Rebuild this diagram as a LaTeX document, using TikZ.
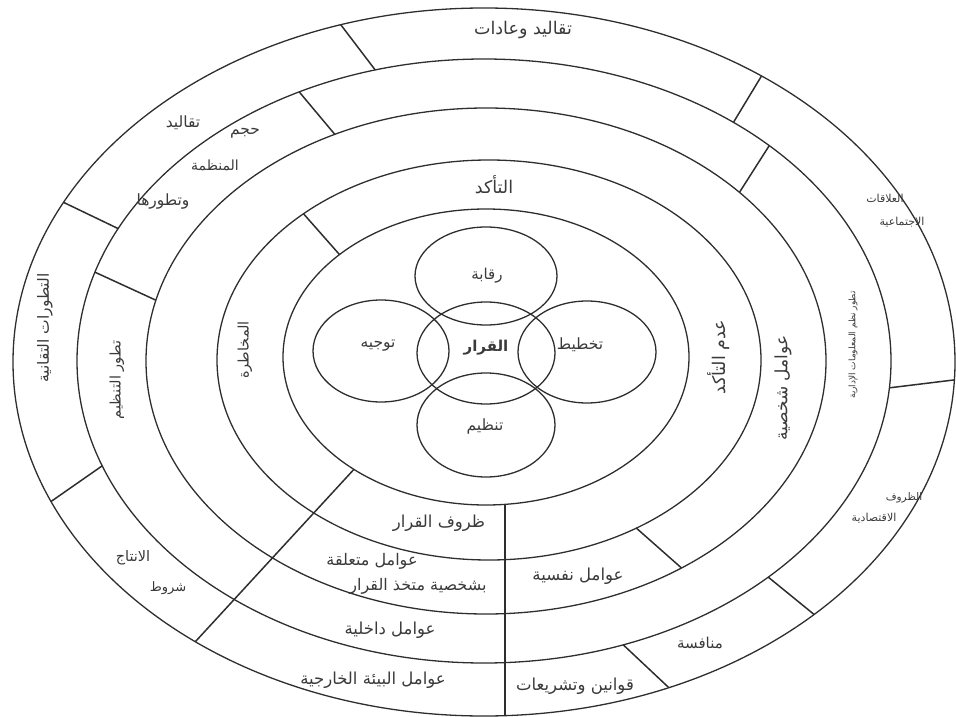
\documentclass[tikz,border=0pt]{standalone}
\usepackage{fontspec}
\usetikzlibrary{calc}
\newfontfamily\arabicfont[Script=Arabic]{DejaVu Sans}
\TeXXeTstate=1
\newcommand{\artxt}[1]{{\arabicfont\beginR #1\endR}}
\definecolor{ink}{HTML}{2E2E2E}
\definecolor{txt}{HTML}{3A3A3A}
\begin{document}
\begin{tikzpicture}[x=1pt,y=-1pt,
  ring/.style={draw=ink,line width=1.3pt},
  sep/.style={draw=ink,line width=1.5pt},
  tsize/.style={font=\fontsize{#1}{#1}\selectfont},
  lbl/.style={text=txt,tsize=16.5,inner sep=0pt},
  core/.style={text=txt,font=\fontsize{15}{15}\selectfont\bfseries,inner sep=0pt},
]
\useasboundingbox (0,0) rectangle (956,717);
% centres of the rings
\coordinate (c1) at (484,362);
\coordinate (c2) at (484,361);
\coordinate (c3) at (486,361);
\coordinate (c4) at (489,360);
\coordinate (c5) at (486,357);
% rings
\draw[ring] (c1) ellipse [x radius=471pt, y radius=354pt];
\draw[ring] (c2) ellipse [x radius=407pt, y radius=302pt];
\draw[ring] (c3) ellipse [x radius=340pt, y radius=253pt];
\draw[ring] (c4) ellipse [x radius=272pt, y radius=200pt];
\draw[ring] (c5) ellipse [x radius=203pt, y radius=148pt];
% inner circles
\draw[ring] (486,276) ellipse [x radius=71pt, y radius=49pt];
\draw[ring] (486,353) ellipse [x radius=69pt, y radius=51pt];
\draw[ring] (381,351) ellipse [x radius=68pt, y radius=51pt];
\draw[ring] (587,352) ellipse [x radius=69pt, y radius=51pt];
\draw[ring] (486,425) ellipse [x radius=69pt, y radius=52pt];
% separator end points
\coordinate (s1a) at ($(c1)+(-107.7:471 and 354)$);
\coordinate (s1b) at ($(c2)+(-105.5:407 and 302)$);
\coordinate (s2a) at ($(c2)+(-117.0:407 and 302)$);
\coordinate (s2b) at ($(c3)+(-116.4:340 and 253)$);
\coordinate (s3a) at ($(c1)+(-153.2:471 and 354)$);
\coordinate (s3b) at ($(c2)+(-154.0:407 and 302)$);
\coordinate (s4a) at ($(c2)+(-162.9:407 and 302)$);
\coordinate (s4b) at ($(c3)+(-166.1:340 and 253)$);
\coordinate (s5a) at ($(c4)+(-133.0:272 and 200)$);
\coordinate (s5b) at ($(c5)+(-136.2:203 and 148)$);
\coordinate (s6a) at ($(c1)+(-53.9:471 and 354)$);
\coordinate (s6b) at ($(c2)+(-52.2:407 and 302)$);
\coordinate (s7a) at ($(c2)+(-45.5:407 and 302)$);
\coordinate (s7b) at ($(c3)+(-41.8:340 and 253)$);
\coordinate (s8a) at ($(c2)+(5.1:407 and 302)$);
\coordinate (s8b) at ($(c1)+(2.9:471 and 354)$);
\coordinate (s9a) at ($(c2)+(45.7:407 and 302)$);
\coordinate (s9b) at ($(c1)+(45.5:471 and 354)$);
\coordinate (s10a) at ($(c2)+(70.0:407 and 302)$);
\coordinate (s10b) at ($(c1)+(66.9:471 and 354)$);
\coordinate (s11a) at ($(c4)+(57.2:272 and 200)$);
\coordinate (s11b) at ($(c3)+(54.9:340 and 253)$);
\coordinate (s12a) at ($(c1)+(156.8:471 and 354)$);
\coordinate (s12b) at ($(c2)+(159.7:407 and 302)$);
\coordinate (dga) at ($(c5)+(130.6:203 and 148)$);
\coordinate (dgb) at ($(c1)+(127.8:471 and 354)$);
\coordinate (vta) at ($(c5)+(84.6:203 and 148)$);
\coordinate (vtb) at ($(c1)+(87.4:471 and 354)$);
% separators
\draw[sep] (s1a) -- (s1b);
\draw[sep] (s2a) -- (s2b);
\draw[sep] (s3a) -- (s3b);
\draw[sep] (s4a) -- (s4b);
\draw[sep] (s5a) -- (s5b);
\draw[sep] (s6a) -- (s6b);
\draw[sep] (s7a) -- (s7b);
\draw[sep] (s8a) -- (s8b);
\draw[sep] (s9a) -- (s9b);
\draw[sep] (s10a) -- (s10b);
\draw[sep] (s11a) -- (s11b);
\draw[sep] (s12a) -- (s12b);
\draw[sep] (dga) -- (dgb);
\draw[sep] (vta) -- (vta |- vtb);
% core labels
\node[core] (qarar) at (486,348) {\artxt{القرار}};
\node[lbl,tsize=15] (raqaba) at (487,276) {\artxt{رقابة}};
\node[lbl,tsize=15.5] (tawjih) at (378,346) {\artxt{توجيه}};
\node[lbl,tsize=15.5] (takhtit) at (580,345) {\artxt{تخطيط}};
\node[lbl,tsize=15.5] (tanzim) at (485,426) {\artxt{تنظيم}};
% ring 4
\node[lbl,tsize=17.5] (taakkud) at (494,185) {\artxt{التأكد}};
\node[lbl,tsize=14.5,rotate=90] (mukhatara) at (245,350) {\artxt{المخاطرة}};
\node[lbl,tsize=17.5,rotate=90] (adam) at (719,357) {\artxt{عدم التأكد}};
\node[lbl] (zuruf) at (439,523) {\artxt{ظروف القرار}};
% ring 3
\node[lbl,tsize=17,rotate=90] (shakhsiya) at (783,388) {\artxt{عوامل شخصية}};
\node[lbl,tsize=16] (mutaalliqa) at (372,561) {\artxt{عوامل متعلقة}};
\node[lbl,tsize=16] (muttakhidh) at (418,586) {\artxt{بشخصية متخذ القرار}};
\node[lbl] (nafsiya) at (578,576) {\artxt{عوامل نفسية}};
% ring 2
\node[lbl,tsize=15.5] (hajm) at (245,133) {\artxt{حجم}};
\node[lbl,tsize=14] (munazzama) at (215,165) {\artxt{المنظمة}};
\node[lbl,tsize=15.5] (tatawwuruha) at (163,202) {\artxt{وتطورها}};
\node[lbl,tsize=14.5,rotate=90] (tanzimdev) at (117,380) {\artxt{تطور التنظيم}};
\node[lbl,tsize=9,rotate=90] (nuzum) at (853,345) {\artxt{تطور نظم المعلومات الإدارية}};
\node[lbl] (dakhiliya) at (390,630) {\artxt{عوامل داخلية}};
% ring 1
\node[lbl,tsize=17.5] (taqalid) at (523,30) {\artxt{تقاليد وعادات}};
\node[lbl,tsize=15.5] (taqalid2) at (183,123) {\artxt{تقاليد}};
\node[lbl,tsize=15.5,rotate=90] (taqaniya) at (45,328) {\artxt{التطورات التقانية}};
\node[lbl,tsize=14.5] (intaj) at (133,558) {\artxt{الانتاج}};
\node[lbl,tsize=13] (shurut) at (168,588) {\artxt{شروط}};
\node[lbl] (bia) at (373,680) {\artxt{عوامل البيئة الخارجية}};
\node[lbl] (qawanin) at (575,686) {\artxt{قوانين وتشريعات}};
\node[lbl,tsize=15] (munafasa) at (700,643) {\artxt{منافسة}};
\node[lbl,tsize=10.5] (zuruf2) at (904,498) {\artxt{الظروف}};
\node[lbl,tsize=11] (iqtisadiya) at (874,518) {\artxt{الاقتصادية}};
\node[lbl,tsize=11] (alaqat) at (885,198) {\artxt{العلاقات}};
\node[lbl,tsize=11] (ijtimaiya) at (902,222) {\artxt{الاجتماعية}};
\end{tikzpicture}
\end{document}
